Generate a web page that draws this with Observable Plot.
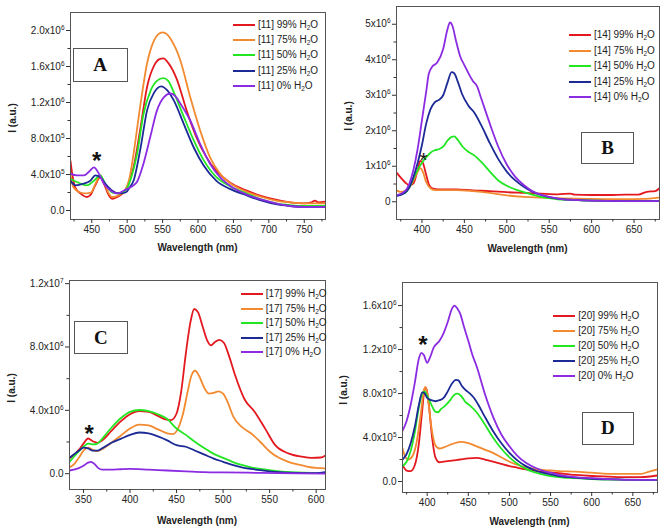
<!DOCTYPE html>
<html><head><meta charset="utf-8">
<script src="https://cdn.jsdelivr.net/npm/d3@7"></script>
<script src="https://cdn.jsdelivr.net/npm/@observablehq/plot@0.6"></script>
<style>
html,body{margin:0;padding:0;background:#fff;}
#fig{position:relative;width:667px;height:530px;overflow:hidden;font-family:"Liberation Sans",Arial,sans-serif;color:#222;}
.panel{position:absolute;}
.xt{position:absolute;font-weight:bold;font-size:10px;transform:translate(-50%,-50%);white-space:nowrap;}
.yt{position:absolute;font-weight:bold;font-size:10px;transform:translate(-50%,-50%) rotate(-90deg);white-space:nowrap;}
.box{position:absolute;border:1px solid #555;box-sizing:border-box;display:flex;align-items:center;justify-content:center;font-family:"Liberation Serif","Times New Roman",serif;font-weight:bold;font-size:19px;background:#fff;color:#111;}
.row{position:absolute;display:flex;align-items:center;white-space:nowrap;transform:translateY(-50%);font-size:10px;color:#222;}
.sw{display:inline-block;height:2px;width:22px;margin-right:3px;}
sub{font-size:6.5px;vertical-align:-2px;}
</style></head><body><div id="fig"></div>
<script>
// ---------- shared ----------
const waterLevels = ["99%", "75%", "50%", "25%", "0%"];
const seriesColors = ["#e3191f", "#f28a30", "#22e622", "#1c2a96", "#8b2be2"];
const compounds = ["[11]", "[14]", "[17]", "[20]"];

// ---------- Panel A (I in 1e6) ----------
const A99 = [[420,0.55],[423,0.38],[427,0.25],[434,0.19],[443,0.15],[448,0.17],[455,0.28],[462,0.37],[467,0.30],[474,0.17],[479,0.13],[486,0.15],[495,0.20],[502,0.30],[509,0.48],[519,0.93],[528,1.37],[538,1.61],[545,1.68],[551,1.69],[558,1.64],[570,1.46],[584,1.11],[598,0.81],[612,0.59],[626,0.44],[645,0.31],[669,0.22],[690,0.16],[710,0.12],[730,0.09],[750,0.08],[760,0.09],[765,0.11],[770,0.09],[780,0.10]];
const A75 = [[420,0.40],[424,0.26],[434,0.20],[443,0.19],[449,0.20],[456,0.31],[462,0.39],[468,0.30],[474,0.19],[479,0.15],[488,0.17],[498,0.24],[503,0.35],[509,0.63],[519,1.19],[528,1.63],[538,1.89],[544,1.96],[550,1.98],[556,1.96],[561,1.91],[575,1.67],[589,1.26],[603,0.89],[617,0.59],[631,0.41],[650,0.28],[668,0.21],[690,0.15],[710,0.11],[730,0.09],[750,0.08],[765,0.08],[780,0.08]];
const A50 = [[420,0.35],[434,0.30],[443,0.28],[453,0.33],[462,0.39],[469,0.30],[479,0.20],[491,0.19],[500,0.25],[507,0.40],[514,0.63],[523,1.07],[533,1.33],[542,1.44],[551,1.47],[558,1.44],[566,1.31],[580,1.04],[594,0.78],[608,0.56],[626,0.37],[645,0.27],[668,0.19],[690,0.12],[710,0.08],[730,0.06],[750,0.05],[780,0.05]];
const A25 = [[420,0.33],[427,0.28],[439,0.30],[448,0.33],[455,0.39],[462,0.37],[469,0.30],[479,0.22],[488,0.19],[498,0.20],[503,0.25],[509,0.33],[519,0.70],[528,1.11],[538,1.31],[548,1.38],[556,1.34],[566,1.22],[580,0.96],[594,0.70],[608,0.50],[626,0.33],[645,0.24],[668,0.17],[690,0.11],[710,0.07],[730,0.05],[750,0.04],[780,0.04]];
const A0 = [[420,0.41],[429,0.39],[439,0.39],[446,0.43],[453,0.48],[460,0.41],[467,0.30],[477,0.22],[486,0.19],[495,0.22],[500,0.24],[507,0.27],[514,0.32],[523,0.52],[533,0.83],[542,1.11],[552,1.26],[561,1.30],[568,1.27],[575,1.19],[589,1.00],[603,0.74],[617,0.52],[631,0.37],[650,0.25],[668,0.18],[690,0.12],[710,0.08],[730,0.05],[750,0.04],[780,0.04]];
const xTicksA = [450, 500, 550, 600, 650, 700, 750];
const xMinorA = [425, 475, 525, 575, 625, 675, 725, 775];
const yTicksA = [0, 0.4, 0.8, 1.2, 1.6, 2.0];
const yLabelsA = ["0.0", "4.0x10^5", "8.0x10^5", "1.2x10^6", "1.6x10^6", "2.0x10^6"];
const yMinorA = [0.2, 0.6, 1.0, 1.4, 1.8];
const starA = [457, 0.61];

// ---------- Panel B (I in 1e6) ----------
const B99 = [[370,0.82],[375,0.68],[380,0.55],[385,0.46],[390,0.52],[395,0.9],[398,1.15],[401,1.1],[404,0.85],[408,0.5],[412,0.38],[420,0.35],[440,0.35],[460,0.32],[480,0.3],[500,0.27],[520,0.25],[540,0.23],[560,0.21],[575,0.23],[580,0.2],[600,0.19],[620,0.19],[640,0.2],[655,0.2],[665,0.28],[675,0.3],[680,0.38]];
const B75 = [[370,0.32],[375,0.28],[380,0.3],[385,0.4],[390,0.6],[395,0.85],[398,0.95],[401,0.85],[405,0.55],[410,0.38],[415,0.33],[440,0.33],[460,0.3],[480,0.25],[500,0.18],[520,0.14],[540,0.12],[560,0.1],[600,0.08],[640,0.07],[660,0.08],[680,0.12]];
const B50 = [[370,0.18],[380,0.25],[385,0.4],[390,0.65],[395,0.9],[400,1.1],[405,1.25],[410,1.38],[415,1.45],[420,1.48],[425,1.55],[430,1.72],[435,1.83],[438,1.84],[442,1.75],[448,1.55],[455,1.4],[462,1.3],[470,1.12],[480,0.85],[490,0.6],[500,0.45],[510,0.35],[520,0.27],[530,0.2],[540,0.14],[550,0.1],[560,0.07],[580,0.05],[600,0.03],[640,0.02],[680,0.02]];
const B25 = [[370,0.16],[380,0.25],[385,0.4],[390,0.7],[395,1.1],[400,1.6],[405,2.2],[410,2.6],[415,2.8],[420,2.87],[425,3.0],[430,3.35],[435,3.65],[438,3.62],[442,3.4],[447,3.05],[455,2.7],[462,2.5],[470,2.15],[480,1.65],[490,1.2],[500,0.85],[510,0.6],[520,0.42],[530,0.28],[540,0.19],[550,0.13],[560,0.09],[580,0.05],[600,0.03],[640,0.02],[680,0.02]];
const B0 = [[370,0.18],[380,0.3],[385,0.5],[390,0.9],[395,1.5],[400,2.3],[405,3.1],[408,3.6],[412,3.8],[418,3.92],[425,4.3],[430,4.85],[433,5.05],[436,4.95],[440,4.55],[445,4.1],[450,3.85],[460,3.4],[465,3.25],[470,2.9],[480,2.2],[490,1.55],[500,1.05],[510,0.7],[520,0.47],[530,0.3],[540,0.2],[550,0.14],[560,0.09],[580,0.05],[600,0.03],[640,0.02],[680,0.02]];
const xTicksB = [400, 450, 500, 550, 600, 650];
const xMinorB = [375, 425, 475, 525, 575, 625, 675];
const yTicksB = [0, 1, 2, 3, 4, 5];
const yLabelsB = ["0", "1x10^6", "2x10^6", "3x10^6", "4x10^6", "5x10^6"];
const yMinorB = [0.5, 1.5, 2.5, 3.5, 4.5];
const starB = [402, 1.35];

// ---------- Panel C (I in 1e6) ----------
const C99 = [[335,0.97],[340,1.2],[345,1.5],[350,1.9],[355,2.22],[360,2.05],[365,1.95],[370,2.1],[380,2.7],[390,3.3],[400,3.75],[410,3.95],[420,3.9],[430,3.65],[437,3.45],[444,3.38],[450,3.8],[455,5.2],[460,7.6],[465,9.6],[469,10.4],[473,10.2],[478,9.3],[483,8.4],[487,8.1],[491,8.3],[496,8.45],[501,8.25],[506,7.5],[513,6.2],[523,4.7],[534,3.9],[545,2.86],[556,1.8],[570,1.28],[585,1.07],[595,1.0],[605,1.02],[610,1.15]];
const C75 = [[335,0.4],[340,0.6],[345,1.0],[350,1.45],[355,1.65],[360,1.5],[365,1.42],[370,1.55],[380,1.95],[390,2.4],[400,2.85],[410,3.1],[420,3.05],[430,2.8],[440,2.55],[446,2.5],[452,2.9],[457,3.8],[462,5.2],[466,6.2],[470,6.5],[474,6.2],[480,5.4],[485,5.05],[490,5.1],[495,5.2],[500,5.05],[505,4.5],[511,3.6],[520,2.95],[530,2.55],[540,2.0],[550,1.4],[560,1.0],[570,0.75],[580,0.58],[590,0.45],[600,0.36],[610,0.33]];
const C50 = [[335,0.75],[345,1.4],[350,1.7],[355,1.9],[360,1.85],[365,1.9],[370,2.2],[380,2.9],[390,3.5],[400,3.9],[410,4.02],[420,3.95],[430,3.75],[440,3.45],[450,2.85],[460,2.45],[470,2.0],[480,1.6],[490,1.25],[500,1.0],[510,0.75],[520,0.55],[530,0.4],[540,0.3],[550,0.22],[560,0.15],[580,0.08],[600,0.05],[610,0.05]];
const C25 = [[335,1.0],[345,1.45],[350,1.65],[355,1.6],[360,1.45],[365,1.45],[370,1.6],[380,1.95],[390,2.2],[400,2.45],[410,2.6],[420,2.55],[430,2.35],[440,2.1],[450,1.8],[460,1.7],[470,1.45],[480,1.2],[490,0.95],[500,0.75],[510,0.55],[520,0.4],[530,0.3],[540,0.22],[550,0.15],[560,0.1],[580,0.05],[600,0.03],[610,0.1]];
const C0 = [[335,0.2],[345,0.35],[350,0.5],[355,0.7],[358,0.75],[362,0.6],[366,0.35],[370,0.25],[380,0.25],[390,0.28],[400,0.3],[420,0.25],[440,0.2],[460,0.15],[480,0.1],[500,0.08],[540,0.05],[580,0.02],[610,0.0]];
const xTicksC = [350, 400, 450, 500, 550, 600];
const xMinorC = [375, 425, 475, 525, 575];
const yTicksC = [0, 4, 8, 12];
const yLabelsC = ["0.0", "4.0x10^6", "8.0x10^6", "1.2x10^7"];
const yMinorC = [2, 6, 10];
const starC = [356, 2.86];

// ---------- Panel D (I in 1e5) ----------
const D99 = [[370,1.5],[375,1.0],[380,0.95],[385,1.5],[390,3.5],[394,6.5],[397,8.4],[399,8.5],[402,7.0],[406,4.0],[410,2.2],[415,1.75],[420,1.8],[430,1.9],[440,2.0],[450,2.1],[460,2.15],[470,2.0],[480,1.8],[490,1.6],[500,1.4],[510,1.25],[520,1.1],[540,0.9],[560,0.75],[580,0.6],[600,0.5],[620,0.45],[640,0.4],[660,0.4],[680,0.55]];
const D75 = [[370,3.0],[373,2.3],[377,2.0],[382,2.3],[387,3.5],[392,6.0],[396,8.3],[398,8.6],[401,7.5],[405,5.0],[410,3.3],[415,3.0],[420,3.1],[430,3.4],[440,3.6],[450,3.5],[460,3.2],[470,2.9],[480,2.6],[490,2.2],[500,1.8],[510,1.5],[520,1.3],[530,1.15],[540,1.05],[550,1.0],[560,0.95],[580,0.9],[600,0.8],[620,0.7],[640,0.7],[660,0.7],[670,0.9],[680,1.1]];
const D50 = [[370,1.4],[375,1.8],[380,2.8],[385,4.5],[390,6.8],[394,8.0],[397,8.2],[400,7.8],[405,7.0],[410,6.35],[413,6.3],[417,6.6],[422,6.9],[428,7.4],[433,7.9],[437,8.0],[441,7.8],[447,7.2],[452,6.9],[460,6.3],[470,5.2],[480,4.0],[490,3.0],[500,2.2],[510,1.6],[520,1.15],[530,0.85],[540,0.65],[550,0.5],[560,0.4],[580,0.3],[600,0.22],[640,0.15],[680,0.12]];
const D25 = [[370,2.0],[375,2.5],[380,3.5],[385,5.0],[390,7.0],[394,8.1],[397,8.0],[400,7.6],[405,7.4],[410,7.3],[415,7.4],[420,7.6],[425,8.2],[430,8.9],[435,9.25],[438,9.2],[442,8.7],[447,8.3],[452,8.0],[457,7.6],[462,7.0],[470,5.9],[480,4.6],[490,3.5],[500,2.6],[510,1.9],[520,1.4],[530,1.05],[540,0.8],[550,0.65],[560,0.5],[580,0.35],[600,0.25],[640,0.18],[680,0.15]];
const D0 = [[370,4.6],[375,5.5],[380,7.0],[385,9.0],[390,11.2],[393,11.7],[396,11.5],[400,10.8],[403,11.2],[408,12.2],[415,12.8],[420,13.5],[425,14.5],[430,15.7],[433,16.0],[437,15.7],[440,15.3],[445,14.0],[450,12.8],[455,11.5],[460,10.5],[470,8.0],[480,5.9],[490,4.3],[500,3.2],[510,2.3],[520,1.7],[530,1.3],[540,1.0],[550,0.8],[560,0.6],[580,0.4],[600,0.3],[640,0.15],[680,0.15]];
const xTicksD = [400, 450, 500, 550, 600, 650];
const xMinorD = [375, 425, 475, 525, 575, 625, 675];
const yTicksD = [0, 4, 8, 12, 16];
const yLabelsD = ["0.0", "4.0x10^5", "8.0x10^5", "1.2x10^6", "1.6x10^6"];
const yMinorD = [2, 6, 10, 14];
const starD = [394.7, 12.9];

// ---------- layout (positions only) ----------
const panels = [
  {id:"A", series:[A99,A75,A50,A25,A0], xDomain:[420,780], yDomain:[-0.1,2.2], xTicks:xTicksA, xMinor:xMinorA, yTicks:yTicksA, yLabels:yLabelsA, yMinor:yMinorA, star:starA, starBold:true,
   left:0, top:0, w:335, h:260, ml:70, mr:10, mt:12, mb:41,
   xt:[197.5,247], yt:[12,118], box:[72.7,48.3,55,33.4], leg:[233,25,15.2]},
  {id:"B", series:[B99,B75,B50,B25,B0], xDomain:[370,680], yDomain:[-0.5,5.5], xTicks:xTicksB, xMinor:xMinorB, yTicks:yTicksB, yLabels:yLabelsB, yMinor:yMinorB, star:starB, starBold:false,
   left:335, top:0, w:332, h:260, ml:61, mr:8, mt:6, mb:41,
   xt:[527.5,248], yt:[348.3,116], box:[580.7,131.7,53.6,32.6], leg:[569,35,15.6]},
  {id:"C", series:[C99,C75,C50,C25,C0], xDomain:[335,610], yDomain:[-1.0,12.2], xTicks:xTicksC, xMinor:xMinorC, yTicks:yTicksC, yLabels:yLabelsC, yMinor:yMinorC, star:starC, starBold:true,
   left:0, top:265, w:335, h:265, ml:69, mr:10, mt:15, mb:41,
   xt:[197,520], yt:[11,388], box:[74,321,53.7,33.3], leg:[240.7,294,14.6]},
  {id:"D", series:[D99,D75,D50,D25,D0], xDomain:[370,680], yDomain:[-1,18.1], xTicks:xTicksD, xMinor:xMinorD, yTicks:yTicksD, yLabels:yLabelsD, yMinor:yMinorD, star:starD, starBold:true,
   left:335, top:265, w:332, h:265, ml:67, mr:10, mt:17, mb:38,
   xt:[529.5,521], yt:[343.3,390], box:[581.7,411.7,52.6,33.3], leg:[553.3,315.7,15.15]}
];

const fig = document.getElementById("fig");

function superscripts(svg) {
  svg.querySelectorAll("text").forEach(t => {
    const s = t.textContent;
    if (s.includes("^")) {
      const [base, exp] = s.split("^");
      t.textContent = base;
      const ts = document.createElementNS("http://www.w3.org/2000/svg", "tspan");
      ts.setAttribute("dy", "-4");
      ts.setAttribute("font-size", "6.5");
      ts.textContent = exp;
      t.appendChild(ts);
    }
  });
}

panels.forEach((p, pi) => {
  const labelMap = new Map(p.yTicks.map((v, i) => [v, p.yLabels[i]]));
  const lines = p.series.map((s, i) => Plot.line(s, {x: d => d[0], y: d => d[1], stroke: seriesColors[i], strokeWidth: 1.8, curve: "monotone-x", clip: true}));
  const axisCol = "#333";
  const svg = Plot.plot({
    width: p.w, height: p.h,
    marginLeft: p.ml, marginRight: p.mr, marginTop: p.mt, marginBottom: p.mb,
    style: {fontFamily: "'Liberation Sans', Arial, sans-serif", fontSize: "10px", color: "#222", background: "transparent", overflow: "visible"},
    x: {domain: p.xDomain},
    y: {domain: p.yDomain},
    marks: [
      ...lines,
      Plot.text([p.star], {x: d => d[0], y: d => d[1], text: () => "*", fontSize: p.starBold ? 24 : 21, fontWeight: p.starBold ? "bold" : "normal", fill: "#111", dy: 6}),
      Plot.frame({stroke: "#555", strokeWidth: 1}),
      Plot.axisX({ticks: p.xTicks, tickSize: 4, tickPadding: 2, tickFormat: d => String(d), label: null, stroke: axisCol, fill: "#222"}),
      Plot.axisX({ticks: p.xMinor, tickSize: 2.5, tickFormat: () => "", label: null, stroke: axisCol}),
      Plot.axisY({ticks: p.yTicks, tickSize: 4, tickPadding: 2, tickFormat: d => labelMap.get(d), label: null, stroke: axisCol, fill: "#222"}),
      Plot.axisY({ticks: p.yMinor, tickSize: 2.5, tickFormat: () => "", label: null, stroke: axisCol})
    ]
  });
  superscripts(svg);
  const wrap = document.createElement("div");
  wrap.className = "panel";
  wrap.style.left = p.left + "px"; wrap.style.top = p.top + "px";
  wrap.style.width = p.w + "px"; wrap.style.height = p.h + "px";
  wrap.appendChild(svg);
  fig.appendChild(wrap);

  const xt = document.createElement("div");
  xt.className = "xt"; xt.textContent = "Wavelength (nm)";
  xt.style.left = p.xt[0] + "px"; xt.style.top = p.xt[1] + "px";
  fig.appendChild(xt);
  const yt = document.createElement("div");
  yt.className = "yt"; yt.textContent = "I (a.u.)";
  yt.style.left = p.yt[0] + "px"; yt.style.top = p.yt[1] + "px";
  fig.appendChild(yt);

  const box = document.createElement("div");
  box.className = "box"; box.textContent = p.id;
  box.style.left = p.box[0] + "px"; box.style.top = p.box[1] + "px";
  box.style.width = p.box[2] + "px"; box.style.height = p.box[3] + "px";
  fig.appendChild(box);

  waterLevels.forEach((w, i) => {
    const row = document.createElement("div");
    row.className = "row";
    row.style.left = p.leg[0] + "px";
    row.style.top = (p.leg[1] + i * p.leg[2]) + "px";
    row.innerHTML = `<span class="sw" style="background:${seriesColors[i]}"></span><span>${compounds[pi]} ${w} H<sub>2</sub>O</span>`;
    fig.appendChild(row);
  });
});
</script></body></html>
